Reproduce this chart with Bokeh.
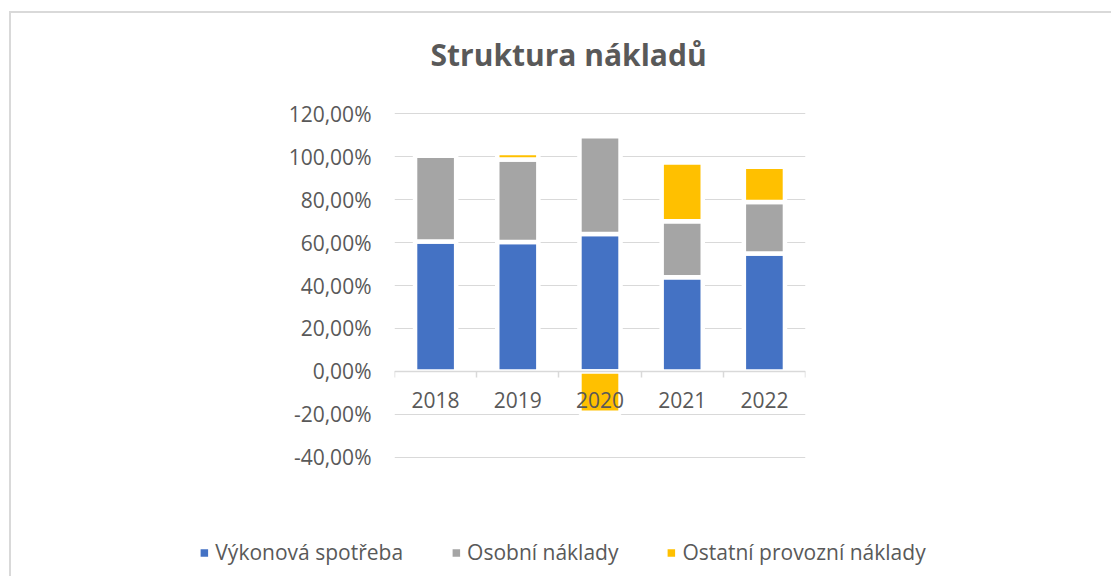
import numpy as np
from bokeh.plotting import figure
from bokeh.layouts import column
from bokeh.models import (Range1d, FixedTicker, LinearAxis, Legend, LegendItem, Title, Grid,
                          ColumnDataSource)
from bokeh.core.properties import value
from bokeh.embed import file_html
from bokeh.resources import INLINE

# ---- data ----
years = ["2018", "2019", "2020", "2021", "2022"]
vykonova_spotreba = [60.5, 60.2, 64.0, 43.8, 54.85]
osobni_naklady = [39.9, 38.4, 45.4, 26.05, 23.95]
ostatni_naklady = [0.0, 3.1, -19.2, 27.35, 16.5]
series_names = ["Výkonová spotřeba", "Osobní náklady", "Ostatní provozní náklady"]
series_colors = ["#4472C4", "#A5A5A5", "#FFC000"]
y_ticks = [-40, -20, 0, 20, 40, 60, 80, 100, 120]
title_text = "Struktura nákladů"

FONT = "Open Sans"
TXT = "#595959"
GRID = "#D9D9D9"

n = len(years)
x = np.arange(n)

p = figure(frame_width=411, frame_height=346,
           min_border_left=383, min_border_right=296,
           min_border_top=99, min_border_bottom=70,
           x_range=Range1d(-0.5, n - 0.5),
           y_range=Range1d(y_ticks[0] - 0.5, y_ticks[-1] + 0.5),
           x_axis_location=None, y_axis_location=None,
           output_backend="svg", toolbar_location=None)
p.outline_line_color = None
p.background_fill_color = "white"
p.border_fill_color = "white"
for g in list(p.grid):
    g.visible = False

# y axis
yaxis = LinearAxis(ticker=FixedTicker(ticks=y_ticks),
                   major_label_overrides={t: f"{t:.2f}".replace(".", ",") + "%" for t in y_ticks},
                   axis_line_color=None, major_tick_line_color=None, minor_tick_line_color=None,
                   major_label_standoff=17, major_label_text_font=FONT,
                   major_label_text_font_size="21px", major_label_text_color=TXT)
p.add_layout(yaxis, "left")
p.add_layout(Grid(dimension=1, ticker=yaxis.ticker, grid_line_color=GRID, grid_line_width=1.2))

# bars (positive and negative values stacked separately, like Excel)
pos = np.zeros(n)
neg = np.zeros(n)
for vals, col in zip([vykonova_spotreba, osobni_naklady, ostatni_naklady], series_colors):
    v = np.array(vals, dtype=float)
    bottom = np.where(v >= 0, pos, neg)
    top = bottom + v
    pos = np.where(v >= 0, top, pos)
    neg = np.where(v < 0, top, neg)
    p.vbar(x=x, bottom=bottom, top=top, width=0.5, fill_color=col,
           line_color="white", line_width=4.5)

# x axis at zero: line + tick marks between categories
bounds = list(np.arange(n + 1) - 0.5)
tick_axis = LinearAxis(fixed_location=0, ticker=FixedTicker(ticks=bounds),
                       axis_line_color=GRID, axis_line_width=1.5,
                       major_tick_line_color=GRID, major_tick_line_width=1.5,
                       major_tick_out=0, major_tick_in=6,
                       minor_tick_line_color=None, major_label_text_alpha=0,
                       major_label_text_font_size="1px")
p.add_layout(tick_axis, "above")

# category labels just under the zero line
p.text(x=x, y=np.zeros(n), text=years, text_align="center", text_baseline="middle",
       y_offset=29, text_font=value(FONT), text_font_size="21px", text_color=TXT)

# title (an empty spacer panel sits between it and the plot area)
p.add_layout(Title(text=" ", text_font=FONT, text_font_size="21px", standoff=8), "above")
p.add_layout(Title(text=title_text, align="left", text_font=FONT, text_font_size="30px",
                   text_font_style="bold", text_color=TXT, standoff=0, offset=36), "above")

# legend strip under the chart
lg = figure(frame_width=800, frame_height=48,
            min_border_left=300, min_border_right=0, min_border_top=0, min_border_bottom=0,
            x_range=Range1d(0, 1), y_range=Range1d(0, 1),
            x_axis_location=None, y_axis_location=None,
            output_backend="svg", toolbar_location=None)
lg.outline_line_color = None
lg.border_fill_color = "white"
for g in list(lg.grid):
    g.visible = False
# zero-height placeholder bars: they only give the legend its swatches
swatch_src = ColumnDataSource(data=dict(x=[0.5], top=[0.0]))
legend_renderers = [lg.vbar(x="x", top="top", width=0.5, source=swatch_src, fill_color=c,
                            line_color="white", line_width=4.5) for c in series_colors]
legend = Legend(items=[LegendItem(label=nm, renderers=[r]) for nm, r in zip(series_names, legend_renderers)],
                orientation="horizontal", location="center", padding=5,
                label_text_font=FONT, label_text_font_size="21px", label_text_color=TXT,
                glyph_width=15, glyph_height=15, label_standoff=4, spacing=45,
                border_line_color=None, background_fill_alpha=0)
lg.add_layout(legend, "center")

layout = column(p, lg, spacing=0)
layout.margin = (11, 0, 0, 9)
layout.styles = {"border-top": "2px solid #D9D9D9", "border-left": "2px solid #D9D9D9",
                 "background-color": "white"}

open("out.html", "w").write(file_html(layout, INLINE))
